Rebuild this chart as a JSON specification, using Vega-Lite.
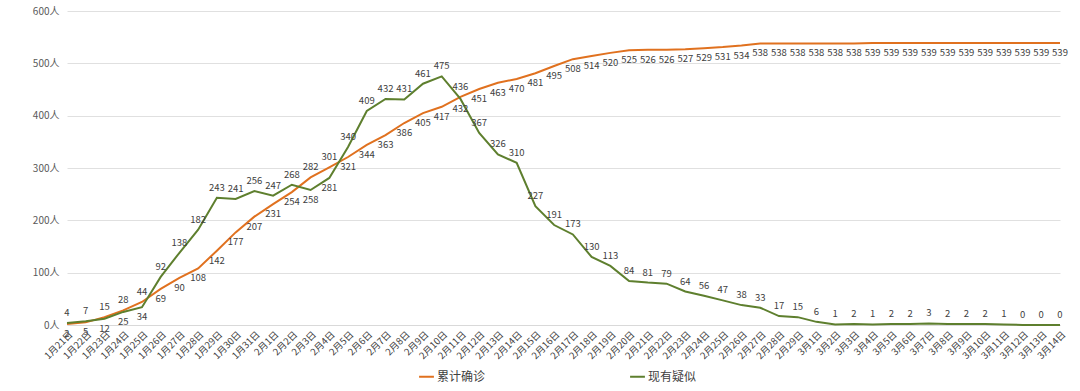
{
  "$schema": "https://vega.github.io/schema/vega-lite/v6.json",
  "width": 993,
  "height": 314,
  "autosize": "none",
  "padding": {"left": 67, "top": 11, "right": 20, "bottom": 66},
  "background": "#ffffff",
  "config": {
    "view": {"stroke": null},
    "font": "Noto Sans CJK SC",
    "axis": {"labelFont": "Noto Sans CJK SC", "titleFont": "Noto Sans CJK SC"},
    "legend": {"labelFont": "Noto Sans CJK SC"}
  },
  "data": {
    "values": [
      {"date": "1月21日", "累计确诊": 2, "现有疑似": 4},
      {"date": "1月22日", "累计确诊": 5, "现有疑似": 7},
      {"date": "1月23日", "累计确诊": 15, "现有疑似": 12},
      {"date": "1月24日", "累计确诊": 28, "现有疑似": 25},
      {"date": "1月25日", "累计确诊": 44, "现有疑似": 34},
      {"date": "1月26日", "累计确诊": 69, "现有疑似": 92},
      {"date": "1月27日", "累计确诊": 90, "现有疑似": 138},
      {"date": "1月28日", "累计确诊": 108, "现有疑似": 182},
      {"date": "1月29日", "累计确诊": 142, "现有疑似": 243},
      {"date": "1月30日", "累计确诊": 177, "现有疑似": 241},
      {"date": "1月31日", "累计确诊": 207, "现有疑似": 256},
      {"date": "2月1日", "累计确诊": 231, "现有疑似": 247},
      {"date": "2月2日", "累计确诊": 254, "现有疑似": 268},
      {"date": "2月3日", "累计确诊": 282, "现有疑似": 258},
      {"date": "2月4日", "累计确诊": 301, "现有疑似": 281},
      {"date": "2月5日", "累计确诊": 321, "现有疑似": 340},
      {"date": "2月6日", "累计确诊": 344, "现有疑似": 409},
      {"date": "2月7日", "累计确诊": 363, "现有疑似": 432},
      {"date": "2月8日", "累计确诊": 386, "现有疑似": 431},
      {"date": "2月9日", "累计确诊": 405, "现有疑似": 461},
      {"date": "2月10日", "累计确诊": 417, "现有疑似": 475},
      {"date": "2月11日", "累计确诊": 436, "现有疑似": 432},
      {"date": "2月12日", "累计确诊": 451, "现有疑似": 367},
      {"date": "2月13日", "累计确诊": 463, "现有疑似": 326},
      {"date": "2月14日", "累计确诊": 470, "现有疑似": 310},
      {"date": "2月15日", "累计确诊": 481, "现有疑似": 227},
      {"date": "2月16日", "累计确诊": 495, "现有疑似": 191},
      {"date": "2月17日", "累计确诊": 508, "现有疑似": 173},
      {"date": "2月18日", "累计确诊": 514, "现有疑似": 130},
      {"date": "2月19日", "累计确诊": 520, "现有疑似": 113},
      {"date": "2月20日", "累计确诊": 525, "现有疑似": 84},
      {"date": "2月21日", "累计确诊": 526, "现有疑似": 81},
      {"date": "2月22日", "累计确诊": 526, "现有疑似": 79},
      {"date": "2月23日", "累计确诊": 527, "现有疑似": 64},
      {"date": "2月24日", "累计确诊": 529, "现有疑似": 56},
      {"date": "2月25日", "累计确诊": 531, "现有疑似": 47},
      {"date": "2月26日", "累计确诊": 534, "现有疑似": 38},
      {"date": "2月27日", "累计确诊": 538, "现有疑似": 33},
      {"date": "2月28日", "累计确诊": 538, "现有疑似": 17},
      {"date": "2月29日", "累计确诊": 538, "现有疑似": 15},
      {"date": "3月1日", "累计确诊": 538, "现有疑似": 6},
      {"date": "3月2日", "累计确诊": 538, "现有疑似": 1},
      {"date": "3月3日", "累计确诊": 538, "现有疑似": 2},
      {"date": "3月4日", "累计确诊": 539, "现有疑似": 1},
      {"date": "3月5日", "累计确诊": 539, "现有疑似": 2},
      {"date": "3月6日", "累计确诊": 539, "现有疑似": 2},
      {"date": "3月7日", "累计确诊": 539, "现有疑似": 3},
      {"date": "3月8日", "累计确诊": 539, "现有疑似": 2},
      {"date": "3月9日", "累计确诊": 539, "现有疑似": 2},
      {"date": "3月10日", "累计确诊": 539, "现有疑似": 2},
      {"date": "3月11日", "累计确诊": 539, "现有疑似": 1},
      {"date": "3月12日", "累计确诊": 539, "现有疑似": 0},
      {"date": "3月13日", "累计确诊": 539, "现有疑似": 0},
      {"date": "3月14日", "累计确诊": 539, "现有疑似": 0}
    ]
  },
  "transform": [
    {"fold": ["累计确诊", "现有疑似"], "as": ["series", "value"]},
    {"joinaggregate": [
      {"op": "max", "field": "value", "as": "mx"},
      {"op": "min", "field": "value", "as": "mn"}
    ], "groupby": ["date"]}
  ],
  "encoding": {
    "x": {
      "field": "date",
      "type": "ordinal",
      "sort": null,
      "scale": {"type": "point", "padding": 0},
      "axis": {
        "title": null,
        "labelAngle": -45,
        "labelFontSize": 9.5,
        "labelColor": "#404040",
        "ticks": false,
        "domainColor": "#d9d9d9",
        "labelPadding": 4,
        "grid": false
      }
    },
    "y": {
      "field": "value",
      "type": "quantitative",
      "scale": {"domain": [0, 600]},
      "axis": {
        "title": null,
        "values": [0, 100, 200, 300, 400, 500, 600],
        "labelExpr": "datum.value + '人'",
        "labelFontSize": 10,
        "labelColor": "#595959",
        "ticks": false,
        "domain": false,
        "gridColor": "#e0e0e0",
        "labelPadding": 8
      }
    }
  },
  "layer": [
    {
      "mark": {"type": "line", "strokeWidth": 2},
      "encoding": {
        "color": {
          "field": "series",
          "type": "nominal",
          "scale": {"domain": ["累计确诊", "现有疑似"], "range": ["#E0711F", "#5E7F2E"]},
          "legend": {
            "title": null,
            "orient": "none",
            "direction": "horizontal",
            "legendX": 351,
            "legendY": 357,
            "symbolType": "stroke",
            "symbolSize": 220,
            "symbolStrokeWidth": 2,
            "labelFontSize": 12,
            "labelColor": "#404040",
            "labelOffset": 2,
            "columnPadding": 140
          }
        }
      }
    },
    {
      "transform": [{"filter": "((datum.mx - datum.mn) < 30 && datum.value === datum.mx) || ((datum.mx - datum.mn) >= 30 && datum.series === '现有疑似')"}],
      "mark": {"type": "text", "dy": -10, "fontSize": 9.5, "color": "#404040"},
      "encoding": {"text": {"field": "value", "type": "quantitative"}}
    },
    {
      "transform": [{"filter": "!(((datum.mx - datum.mn) < 30 && datum.value === datum.mx) || ((datum.mx - datum.mn) >= 30 && datum.series === '现有疑似'))"}],
      "mark": {"type": "text", "dy": 10, "fontSize": 9.5, "color": "#404040"},
      "encoding": {"text": {"field": "value", "type": "quantitative"}}
    }
  ]
}
